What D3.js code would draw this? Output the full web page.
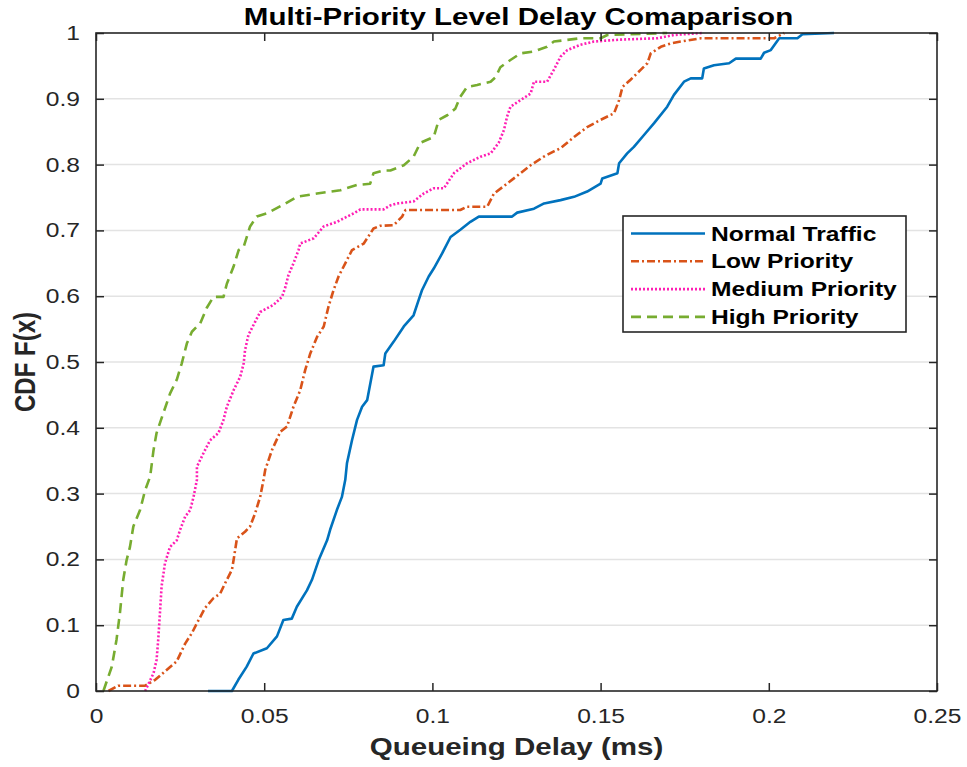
<!DOCTYPE html>
<html>
<head>
<meta charset="utf-8">
<script src="https://cdn.jsdelivr.net/npm/d3@7"></script>
<style>
  html, body { margin: 0; padding: 0; background: #ffffff; }
  svg { display: block; font-family: "Liberation Sans", Arial, Helvetica, sans-serif; }
</style>
</head>
<body>
<svg id="chart" width="967" height="767"></svg>
<script>
// Empirical CDF samples: [queueing delay (ms), F(x)]
const normalTraffic = [
  [0.0333,0],[0.0404,0],[0.0423,0.017],[0.0448,0.037],[0.0468,0.057],[0.0508,0.065],[0.0538,0.083],
  [0.0557,0.108],[0.0582,0.11],[0.0597,0.128],[0.0627,0.153],[0.0642,0.169],[0.0662,0.199],[0.0687,0.229],
  [0.0696,0.245],[0.0716,0.275],[0.0731,0.295],[0.0741,0.321],[0.0746,0.346],[0.0761,0.381],[0.0776,0.412],
  [0.0791,0.432],[0.0806,0.442],[0.0825,0.493],[0.0855,0.495],[0.0860,0.513],[0.0885,0.531],[0.0915,0.554],
  [0.0944,0.571],[0.0959,0.594],[0.0969,0.609],[0.0989,0.630],[0.1004,0.642],[0.1029,0.665],[0.1054,0.690],
  [0.1083,0.701],[0.1113,0.713],[0.1138,0.721],[0.1237,0.721],[0.1252,0.727],[0.1302,0.733],[0.1332,0.741],
  [0.1381,0.746],[0.1421,0.751],[0.1460,0.759],[0.1500,0.771],[0.1505,0.779],[0.1550,0.787],[0.1555,0.802],
  [0.1579,0.817],[0.1599,0.827],[0.1629,0.845],[0.1659,0.863],[0.1698,0.888],[0.1718,0.906],[0.1748,0.926],
  [0.1768,0.931],[0.1802,0.931],[0.1807,0.946],[0.1837,0.951],[0.1882,0.954],[0.1902,0.961],[0.1976,0.961],
  [0.1986,0.970],[0.2006,0.974],[0.2031,0.992],[0.2085,0.992],[0.2100,0.998],[0.2194,1.0]
];
const lowPriority = [
  [0.0037,0],[0.0066,0.008],[0.0146,0.008],[0.0176,0.017],[0.0210,0.032],[0.0240,0.045],[0.0265,0.072],
  [0.0285,0.088],[0.0300,0.103],[0.0324,0.126],[0.0349,0.141],[0.0369,0.148],[0.0384,0.164],[0.0404,0.184],
  [0.0409,0.199],[0.0419,0.232],[0.0443,0.242],[0.0458,0.250],[0.0473,0.270],[0.0488,0.295],[0.0498,0.321],
  [0.0503,0.336],[0.0523,0.366],[0.0548,0.394],[0.0568,0.402],[0.0587,0.432],[0.0607,0.457],[0.0622,0.488],
  [0.0637,0.513],[0.0657,0.538],[0.0677,0.554],[0.0691,0.584],[0.0706,0.609],[0.0721,0.630],[0.0741,0.650],
  [0.0761,0.670],[0.0796,0.680],[0.0825,0.703],[0.0845,0.707],[0.0885,0.708],[0.0910,0.721],[0.0920,0.731],
  [0.1083,0.731],[0.1103,0.736],[0.1163,0.736],[0.1183,0.756],[0.1222,0.771],[0.1262,0.787],[0.1292,0.799],
  [0.1331,0.812],[0.1361,0.820],[0.1381,0.825],[0.1421,0.842],[0.1460,0.857],[0.1500,0.868],[0.1540,0.878],
  [0.1555,0.898],[0.1565,0.918],[0.1589,0.929],[0.1619,0.944],[0.1639,0.954],[0.1649,0.969],[0.1679,0.979],
  [0.1708,0.984],[0.1738,0.987],[0.1798,0.992],[0.2016,0.992],[0.2046,1.0]
];
const mediumPriority = [
  [0.0146,0],[0.0171,0.027],[0.0180,0.047],[0.0185,0.078],[0.0190,0.118],[0.0195,0.159],[0.0205,0.194],
  [0.0220,0.219],[0.0240,0.229],[0.0250,0.245],[0.0265,0.265],[0.0280,0.275],[0.0290,0.295],[0.0300,0.321],
  [0.0300,0.341],[0.0319,0.361],[0.0339,0.381],[0.0364,0.392],[0.0379,0.412],[0.0389,0.432],[0.0409,0.457],
  [0.0429,0.478],[0.0439,0.498],[0.0443,0.518],[0.0453,0.541],[0.0473,0.561],[0.0488,0.576],[0.0528,0.587],
  [0.0553,0.599],[0.0563,0.614],[0.0572,0.632],[0.0587,0.650],[0.0602,0.670],[0.0607,0.680],[0.0647,0.688],
  [0.0677,0.706],[0.0716,0.713],[0.0766,0.726],[0.0786,0.732],[0.0855,0.732],[0.0875,0.738],[0.0895,0.741],
  [0.0944,0.744],[0.0974,0.756],[0.1004,0.764],[0.1034,0.764],[0.1064,0.787],[0.1103,0.802],[0.1143,0.812],
  [0.1173,0.817],[0.1197,0.833],[0.1213,0.853],[0.1222,0.873],[0.1232,0.888],[0.1262,0.898],[0.1292,0.908],
  [0.1302,0.926],[0.1341,0.926],[0.1361,0.944],[0.1381,0.964],[0.1401,0.974],[0.1440,0.982],[0.1480,0.987],
  [0.1560,0.990],[0.1669,0.992],[0.1718,0.997],[0.1802,1.0]
];
const highPriority = [
  [0.0022,0],[0.0047,0.037],[0.0061,0.078],[0.0071,0.118],[0.0081,0.169],[0.0091,0.199],[0.0101,0.219],
  [0.0111,0.250],[0.0131,0.275],[0.0146,0.305],[0.0161,0.326],[0.0171,0.366],[0.0180,0.392],[0.0200,0.422],
  [0.0220,0.452],[0.0240,0.473],[0.0255,0.498],[0.0270,0.528],[0.0285,0.546],[0.0310,0.559],[0.0329,0.582],
  [0.0349,0.599],[0.0379,0.599],[0.0389,0.619],[0.0409,0.645],[0.0424,0.670],[0.0439,0.675],[0.0458,0.706],
  [0.0478,0.721],[0.0508,0.726],[0.0553,0.738],[0.0597,0.751],[0.0657,0.756],[0.0726,0.761],[0.0776,0.769],
  [0.0815,0.771],[0.0825,0.787],[0.0855,0.791],[0.0875,0.791],[0.0915,0.799],[0.0944,0.812],[0.0964,0.833],
  [0.1004,0.842],[0.1019,0.868],[0.1044,0.875],[0.1068,0.885],[0.1083,0.903],[0.1103,0.918],[0.1133,0.921],
  [0.1173,0.926],[0.1188,0.933],[0.1202,0.948],[0.1232,0.959],[0.1262,0.969],[0.1302,0.972],[0.1341,0.979],
  [0.1361,0.987],[0.1440,0.992],[0.1500,0.992],[0.1520,0.997],[0.1698,1.0]
];

const seriesNames = ["Normal Traffic", "Low Priority", "Medium Priority", "High Priority"];
const xTicks = [0, 0.05, 0.1, 0.15, 0.2, 0.25];
const xTickLabels = ["0", "0.05", "0.1", "0.15", "0.2", "0.25"];
const yTicks = [0, 0.1, 0.2, 0.3, 0.4, 0.5, 0.6, 0.7, 0.8, 0.9, 1];
const yTickLabels = ["0", "0.1", "0.2", "0.3", "0.4", "0.5", "0.6", "0.7", "0.8", "0.9", "1"];

const titleText = "Multi-Priority Level Delay Comaparison";
const xLabelText = "Queueing Delay (ms)";
const yLabelText = "CDF F(x)";

// Styling per series
const styles = [
  { color: "#0072BD", dash: null,        width: 2.6 },
  { color: "#D95319", dash: "8,3,2,3",   width: 2.6 },
  { color: "#FF1FB4", dash: "2,2",       width: 2.6 },
  { color: "#77AC30", dash: "10,6",      width: 2.6 }
];
const seriesData = [normalTraffic, lowPriority, mediumPriority, highPriority];

const ink = "#262626";
const stretch = 1.23;   // horizontal glyph widening used by the figure's text

const svg = d3.select("#chart");
const plot = { left: 96, right: 937, top: 33, bottom: 691 };

const x = d3.scaleLinear().domain([0, 0.25]).range([plot.left, plot.right]);
const y = d3.scaleLinear().domain([0, 1]).range([plot.bottom, plot.top]);

// horizontal grid
svg.append("g")
  .selectAll("line")
  .data(yTicks.slice(1, -1))
  .join("line")
  .attr("x1", plot.left).attr("x2", plot.right)
  .attr("y1", d => y(d)).attr("y2", d => y(d))
  .attr("stroke", "#e3e3e3").attr("stroke-width", 1.5);

// CDF curves
const line = d3.line().x(d => x(d[0])).y(d => y(d[1]));
const curves = svg.append("g");
seriesData.forEach((data, i) => {
  curves.append("path")
    .datum(data)
    .attr("d", line)
    .attr("fill", "none")
    .attr("stroke", styles[i].color)
    .attr("stroke-width", styles[i].width)
    .attr("stroke-dasharray", styles[i].dash)
    .attr("stroke-linejoin", "round");
});

// axes with inward ticks on all four sides
const xFmt = (d, i) => xTickLabels[xTicks.indexOf(d)];
const yFmt = (d, i) => yTickLabels[yTicks.indexOf(d)];

const gBottom = svg.append("g")
  .attr("transform", `translate(0,${plot.bottom})`)
  .call(d3.axisBottom(x).tickValues(xTicks).tickFormat(xFmt).tickSizeInner(-8).tickSizeOuter(0).tickPadding(18));
const gLeft = svg.append("g")
  .attr("transform", `translate(${plot.left},0)`)
  .call(d3.axisLeft(y).tickValues(yTicks).tickFormat(yFmt).tickSizeInner(-8).tickSizeOuter(0).tickPadding(13));
const gTop = svg.append("g")
  .attr("transform", `translate(0,${plot.top})`)
  .call(d3.axisTop(x).tickValues(xTicks).tickFormat("").tickSizeInner(-8).tickSizeOuter(0));
const gRight = svg.append("g")
  .attr("transform", `translate(${plot.right},0)`)
  .call(d3.axisRight(y).tickValues(yTicks).tickFormat("").tickSizeInner(-8).tickSizeOuter(0));

[gBottom, gLeft, gTop, gRight].forEach(g => {
  g.select(".domain").remove();
  g.selectAll(".tick line").attr("stroke", ink).attr("stroke-width", 1.5);
  g.selectAll(".tick text")
    .attr("fill", ink)
    .style("font-size", "20px")
    .style("font-family", "'Liberation Sans', Arial, sans-serif");
});
gBottom.selectAll(".tick text").attr("transform", `scale(${stretch},1)`);
gLeft.selectAll(".tick text").attr("transform", `scale(${stretch},1)`);

// axes box
svg.append("rect")
  .attr("x", plot.left).attr("y", plot.top)
  .attr("width", plot.right - plot.left).attr("height", plot.bottom - plot.top)
  .attr("fill", "none").attr("stroke", ink).attr("stroke-width", 1.6);

// title and axis labels
svg.append("text")
  .attr("transform", `translate(${(plot.left + plot.right) / 2 + 2},25) scale(${stretch},1)`)
  .attr("text-anchor", "middle")
  .attr("font-weight", "bold").attr("font-size", 24)
  .attr("fill", "#000")
  .text(titleText);

svg.append("text")
  .attr("transform", `translate(${(plot.left + plot.right) / 2},755) scale(${stretch},1)`)
  .attr("text-anchor", "middle")
  .attr("font-weight", "bold").attr("font-size", 24)
  .attr("fill", ink)
  .text(xLabelText);

svg.append("text")
  .attr("transform", `translate(35,${(plot.top + plot.bottom) / 2}) rotate(-90) scale(1,${stretch})`)
  .attr("text-anchor", "middle")
  .attr("font-weight", "bold").attr("font-size", 24)
  .attr("fill", ink)
  .text(yLabelText);

// legend
const legend = svg.append("g").attr("transform", "translate(623,216)");
legend.append("rect")
  .attr("width", 283).attr("height", 116)
  .attr("fill", "#ffffff").attr("stroke", ink).attr("stroke-width", 1.6);
seriesNames.forEach((name, i) => {
  const cy = 17.5 + i * 27.8;
  legend.append("line")
    .attr("x1", 8).attr("x2", 82)
    .attr("y1", cy).attr("y2", cy)
    .attr("stroke", styles[i].color)
    .attr("stroke-width", styles[i].width)
    .attr("stroke-dasharray", styles[i].dash);
  legend.append("text")
    .attr("transform", `translate(88,${cy + 7}) scale(${stretch},1)`)
    .attr("font-weight", "bold").attr("font-size", 20)
    .attr("fill", "#000")
    .text(name);
});
</script>
</body>
</html>
